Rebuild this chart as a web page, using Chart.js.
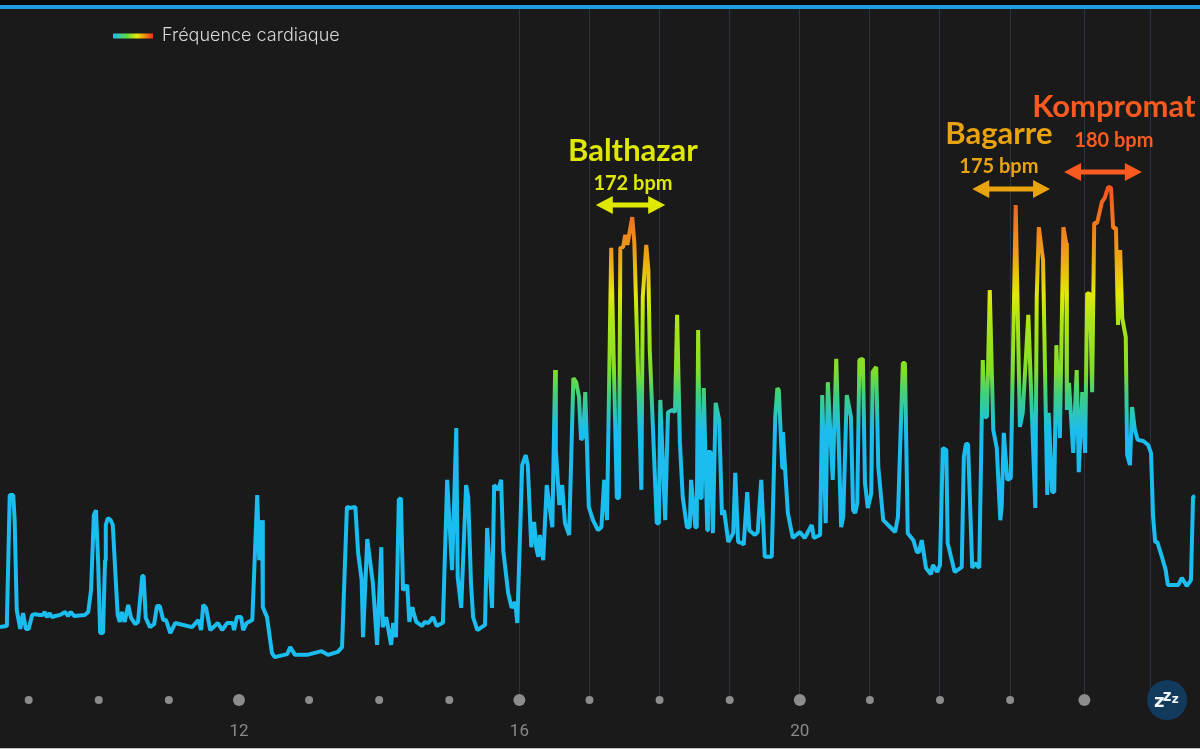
<!DOCTYPE html>
<html lang="fr">
<head>
    <meta charset="UTF-8">
    <title>Fréquence cardiaque</title>
    <script src="https://cdn.jsdelivr.net/npm/chart.js"></script>
    <style>
        html, body { margin: 0; padding: 0; background: #1a1a1a; overflow: hidden; }
        #page { position: relative; width: 1200px; height: 749px; }
        #topbar { position: absolute; left: 0; top: 0; width: 1200px; height: 9px; background: #1f9ce2; border-top: 5px solid #0b0b0b; box-sizing: border-box; }
        #bottomline { position: absolute; left: 0; bottom: 0; width: 1200px; height: 1px; background: #bdbdbd; }
        canvas { display: block; }
    </style>
</head>
<body>
    <div id="page">
        <canvas id="chart" width="1200" height="749"></canvas>
        <div id="topbar"></div>
        <div id="bottomline"></div>
    </div>

    <script>
        // Heure de la journee et frequence cardiaque
        const heartHours = [
            8.59, 8.68, 8.69, 8.73, 8.78, 8.80, 8.83, 8.88, 8.92, 8.96, 9.00, 9.05, 9.09, 9.16, 9.20, 9.23, 9.26, 9.30, 9.33, 9.38,
            9.45, 9.52, 9.56, 9.60, 9.65, 9.80, 9.85, 9.89, 9.93, 9.96, 9.99, 10.02, 10.06, 10.09, 10.10, 10.13, 10.17, 10.20, 10.25, 10.27,
            10.30, 10.33, 10.37, 10.42, 10.46, 10.52, 10.56, 10.62, 10.64, 10.67, 10.73, 10.79, 10.83, 10.87, 10.92, 10.96, 11.02, 11.09, 11.33, 11.42,
            11.46, 11.49, 11.53, 11.59, 11.70, 11.76, 11.83, 11.91, 11.93, 11.97, 12.03, 12.06, 12.11, 12.19, 12.26, 12.29, 12.33, 12.34, 12.40, 12.47,
            12.51, 12.69, 12.73, 12.80, 12.97, 13.18, 13.27, 13.41, 13.47, 13.54, 13.58, 13.66, 13.70, 13.75, 13.77, 13.83, 13.91, 13.97, 14.03, 14.05,
            14.10, 14.17, 14.20, 14.24, 14.28, 14.31, 14.34, 14.37, 14.40, 14.43, 14.47, 14.48, 14.53, 14.61, 14.65, 14.70, 14.77, 14.82, 14.90, 14.91,
            14.97, 14.98, 15.04, 15.10, 15.11, 15.12, 15.17, 15.24, 15.27, 15.31, 15.34, 15.40, 15.51, 15.54, 15.61, 15.64, 15.70, 15.74, 15.77, 15.84,
            15.89, 15.94, 15.97, 16.04, 16.09, 16.12, 16.17, 16.21, 16.24, 16.27, 16.29, 16.34, 16.39, 16.47, 16.51, 16.52, 16.57, 16.61, 16.65, 16.71,
            16.77, 16.81, 16.85, 16.88, 16.91, 16.94, 16.96, 16.99, 17.05, 17.12, 17.17, 17.21, 17.25, 17.31, 17.39, 17.42, 17.44, 17.48, 17.51, 17.54,
            17.61, 17.64, 17.74, 17.76, 17.81, 17.84, 17.86, 17.96, 17.99, 18.01, 18.08, 18.12, 18.18, 18.22, 18.25, 18.29, 18.33, 18.39, 18.43, 18.45,
            18.51, 18.53, 18.55, 18.58, 18.60, 18.63, 18.68, 18.69, 18.73, 18.76, 18.80, 18.85, 18.89, 18.92, 18.98, 19.05, 19.08, 19.12, 19.18, 19.20,
            19.25, 19.28, 19.36, 19.40, 19.45, 19.50, 19.60, 19.65, 19.68, 19.70, 19.75, 19.76, 19.79, 19.83, 19.90, 20.00, 20.07, 20.17, 20.20, 20.29,
            20.32, 20.37, 20.40, 20.47, 20.52, 20.59, 20.62, 20.67, 20.73, 20.76, 20.79, 20.82, 20.85, 20.90, 20.93, 20.97, 21.02, 21.04, 21.09, 21.12,
            21.19, 21.26, 21.36, 21.40, 21.47, 21.50, 21.54, 21.62, 21.67, 21.70, 21.74, 21.80, 21.87, 21.90, 21.96, 22.00, 22.04, 22.09, 22.11, 22.21,
            22.31, 22.34, 22.37, 22.40, 22.46, 22.50, 22.56, 22.61, 22.64, 22.67, 22.71, 22.76, 22.81, 22.86, 22.88, 22.91, 22.96, 23.01, 23.08, 23.14,
            23.18, 23.26, 23.36, 23.38, 23.41, 23.47, 23.53, 23.55, 23.60, 23.63, 23.66, 23.71, 23.76, 23.80, 23.81, 23.84, 23.90, 23.95, 23.98, 24.03,
            24.07, 24.10, 24.14, 24.17, 24.20, 24.24, 24.31, 24.35, 24.40, 24.44, 24.47, 24.51, 24.54, 24.57, 24.60, 24.65, 24.67, 24.71, 24.74, 24.78,
            24.82, 24.90, 24.97, 25.01, 25.04, 25.07, 25.10, 25.17, 25.22, 25.25, 25.40, 25.45, 25.52, 25.58, 25.61, 25.64
        ];
        const heartBpm = [
            61.0, 61.3, 62.9, 96.7, 96.7, 89.9, 65.6, 60.5, 64.8, 60.5, 60.5, 64.3, 64.5, 64.3, 64.3, 65.1, 63.7, 64.8, 63.7, 64.0,
            64.3, 65.1, 64.0, 65.1, 64.0, 64.3, 65.1, 71.0, 91.3, 92.6, 79.1, 59.4, 59.4, 79.1, 88.6, 90.5, 89.9, 88.6, 71.0, 64.3,
            62.4, 65.1, 62.4, 67.0, 63.5, 61.8, 62.4, 74.8, 74.8, 63.5, 61.0, 61.8, 66.7, 66.7, 62.9, 62.9, 59.4, 62.1, 61.0, 62.9,
            60.2, 67.0, 66.2, 60.2, 62.1, 60.2, 62.1, 62.1, 60.2, 63.7, 63.7, 60.2, 62.1, 62.9, 96.7, 79.1, 89.9, 66.4, 63.7, 54.0,
            52.9, 53.7, 55.6, 53.5, 53.5, 54.5, 53.5, 54.3, 55.6, 93.5, 93.2, 93.5, 81.0, 73.7, 58.3, 84.8, 72.9, 56.2, 82.6, 61.0,
            63.7, 56.2, 62.1, 58.3, 95.4, 95.9, 71.0, 71.6, 72.4, 62.4, 66.4, 65.6, 62.4, 61.3, 62.4, 62.1, 63.7, 61.3, 62.1, 62.9,
            100.8, 100.8, 76.4, 114.8, 114.8, 74.5, 66.2, 99.4, 96.2, 72.9, 63.7, 60.2, 61.6, 87.8, 66.2, 99.4, 98.1, 100.8, 81.8, 70.2,
            66.2, 67.8, 62.1, 104.8, 107.5, 104.8, 82.6, 89.4, 82.6, 80.0, 85.9, 79.1, 99.4, 88.0, 130.5, 108.9, 94.0, 99.4, 89.1, 85.9,
            128.3, 127.2, 123.2, 111.6, 112.4, 124.5, 112.4, 93.5, 89.9, 87.2, 88.0, 100.8, 89.9, 163.5, 95.9, 95.9, 163.5, 163.7, 167.0, 164.3,
            171.8, 164.8, 98.1, 150.2, 164.3, 157.5, 135.9, 89.1, 89.1, 122.4, 89.9, 119.1, 119.7, 119.1, 145.4, 110.8, 96.2, 88.0, 88.0, 100.8,
            88.0, 88.0, 141.3, 95.9, 95.9, 125.6, 87.2, 108.3, 108.3, 86.4, 121.6, 117.0, 91.3, 92.6, 84.0, 86.4, 102.7, 84.0, 83.7, 83.2,
            97.5, 87.2, 85.9, 86.7, 100.8, 80.0, 80.0, 117.8, 125.6, 125.1, 104.0, 113.7, 104.0, 91.8, 85.1, 86.7, 85.1, 88.6, 85.1, 85.9,
            123.7, 89.1, 127.2, 100.8, 133.5, 88.0, 90.8, 123.7, 117.8, 92.6, 91.8, 94.5, 133.2, 133.5, 100.0, 93.2, 97.2, 130.0, 131.3, 104.3,
            89.9, 88.6, 86.7, 90.8, 132.4, 132.4, 86.4, 84.5, 81.3, 81.3, 84.5, 77.0, 75.3, 77.8, 75.9, 77.8, 109.4, 108.9, 83.7, 75.9,
            77.2, 107.0, 110.5, 110.5, 77.0, 78.3, 77.0, 133.2, 117.8, 117.8, 152.1, 114.3, 109.4, 89.9, 93.5, 113.5, 100.8, 101.3, 175.1, 115.1,
            118.9, 145.4, 93.2, 150.2, 169.1, 160.2, 96.7, 118.9, 97.5, 97.5, 137.2, 112.1, 169.1, 164.8, 119.7, 127.0, 108.1, 130.5, 102.9, 124.5,
            108.1, 151.3, 151.0, 124.5, 170.2, 170.2, 175.9, 177.0, 180.0, 179.7, 168.9, 168.9, 142.7, 162.9, 144.5, 139.4, 107.5, 104.8, 120.5, 114.3,
            111.6, 111.3, 110.2, 108.1, 90.8, 84.0, 84.0, 79.7, 76.4, 72.4, 72.4, 74.3, 72.1, 73.7, 96.2, 96.4
        ];

        // Axe des heures : graduations, libelles et points gris
        const tickHours = [9, 10, 11, 12, 13, 14, 15, 16, 17, 18, 19, 20, 21, 22, 23, 24.06, 25];
        const tickLabels = { 12: '12', 16: '16', 20: '20' };
        const dotHours = [9, 10, 11, 12, 13, 14, 15, 16, 17, 18, 19, 20, 21, 22, 23, 24.06];
        const bigDotHours = [12, 16, 20, 24.06];
        const firstGridHour = 16;
        const sleepHour = 25.24;

        // Couleurs de la courbe selon le bpm
        const gradientBpm = [114, 118, 124, 130, 144, 151, 157, 163, 170, 179];
        const gradientColors = ['#1bbcee', '#28c4c4', '#3fd07c', '#7fde2c', '#aee614', '#e0e80a', '#e8c010', '#ee9a1a', '#ee7a1e', '#f4581e'];

        // Films reperes sur le graphique
        const peakNames = ['Balthazar', 'Bagarre', 'Kompromat'];
        const peakTexts = ['172 bpm', '175 bpm', '180 bpm'];
        const peakColors = ['#dfe800', '#e8a30f', '#f95a1f'];
        const peakCenters = [17.62, 22.84, 24.48];
        const peakNameBpm = [189.7, 194.3, 201.6];
        const peakTextBpm = [180.8, 185.6, 192.4];
        const arrowStarts = [17.09, 22.46, 23.77];
        const arrowEnds = [18.08, 23.57, 24.88];
        const arrowBpm = [175.1, 179.4, 184.0];

        // Degrade vertical de la courbe, cale sur l'echelle des bpm
        function lineGradient(chart) {
            const y = chart.scales.y;
            const top = y.getPixelForValue(gradientBpm[gradientBpm.length - 1]);
            const bottom = y.getPixelForValue(gradientBpm[0]);
            const gradient = chart.ctx.createLinearGradient(0, bottom, 0, top);
            gradientBpm.forEach((bpm, i) => {
                gradient.addColorStop((y.getPixelForValue(bpm) - bottom) / (top - bottom), gradientColors[i]);
            });
            return gradient;
        }

        // Degrade de la legende
        function legendGradient(chart) {
            const gradient = chart.ctx.createLinearGradient(113, 0, 153, 0);
            gradient.addColorStop(0, '#1bbcee');
            gradient.addColorStop(0.35, '#5fdc40');
            gradient.addColorStop(0.6, '#e8e80a');
            gradient.addColorStop(1, '#ee3018');
            return gradient;
        }

        // Place la legende au meme endroit que sur l'image
        const legendPlacement = {
            id: 'legendPlacement',
            afterLayout(chart) {
                chart.legend.left = 103;
                chart.legend.top = 17;
            }
        };

        // Fleches et textes des films, plus le badge de sommeil
        const peakMarks = {
            id: 'peakMarks',
            afterDatasetsDraw(chart) {
                const { ctx, scales: { x, y } } = chart;
                ctx.save();
                ctx.textAlign = 'center';
                ctx.textBaseline = 'middle';
                peakNames.forEach((name, i) => {
                    const cx = x.getPixelForValue(peakCenters[i]);
                    ctx.fillStyle = peakColors[i];
                    ctx.strokeStyle = peakColors[i];
                    ctx.font = 'bold 31px Lato';
                    ctx.fillText(name, cx, y.getPixelForValue(peakNameBpm[i]));
                    ctx.font = 'bold 20px Lato';
                    ctx.fillText(peakTexts[i], cx, y.getPixelForValue(peakTextBpm[i]));

                    const x1 = x.getPixelForValue(arrowStarts[i]);
                    const x2 = x.getPixelForValue(arrowEnds[i]);
                    const ay = y.getPixelForValue(arrowBpm[i]);
                    ctx.lineWidth = 5;
                    ctx.beginPath();
                    ctx.moveTo(x1 + 10, ay);
                    ctx.lineTo(x2 - 10, ay);
                    ctx.stroke();
                    ctx.beginPath();
                    ctx.moveTo(x1, ay);
                    ctx.lineTo(x1 + 17, ay - 9);
                    ctx.lineTo(x1 + 17, ay + 9);
                    ctx.closePath();
                    ctx.moveTo(x2, ay);
                    ctx.lineTo(x2 - 17, ay - 9);
                    ctx.lineTo(x2 - 17, ay + 9);
                    ctx.closePath();
                    ctx.fill();
                });

                const sx = x.getPixelForValue(sleepHour);
                const sy = y.bottom;
                ctx.fillStyle = '#123a5c';
                ctx.beginPath();
                ctx.arc(sx, sy, 20, 0, Math.PI * 2);
                ctx.fill();
                ctx.fillStyle = '#f2f5f8';
                ctx.font = 'bold 18px "DejaVu Sans"';
                ctx.fillText('z', sx - 8, sy + 2);
                ctx.font = 'bold 15px "DejaVu Sans"';
                ctx.fillText('z', sx, sy - 3);
                ctx.font = 'bold 12px "DejaVu Sans"';
                ctx.fillText('z', sx + 8, sy);
                ctx.restore();
            }
        };

        new Chart(document.getElementById('chart').getContext('2d'), {
            type: 'line',
            data: {
                datasets: [
                    {
                        label: 'Fréquence cardiaque',
                        data: heartHours.map((h, i) => ({ x: h, y: heartBpm[i] })),
                        borderColor: c => c.chart.chartArea ? lineGradient(c.chart) : '#1bbcee',
                        borderWidth: 4,
                        borderJoinStyle: 'bevel',
                        pointRadius: 0,
                        tension: 0
                    },
                    {
                        label: 'Heures',
                        data: dotHours.map(h => ({ x: h, y: 41.3 })),
                        showLine: false,
                        clip: false,
                        backgroundColor: '#8c8c8c',
                        borderWidth: 0,
                        pointRadius: c => bigDotHours.includes(dotHours[c.dataIndex]) ? 6 : 4
                    }
                ]
            },
            options: {
                responsive: false,
                animation: false,
                layout: { padding: 0, autoPadding: false },
                scales: {
                    x: {
                        type: 'linear',
                        min: 8.591,
                        max: 25.709,
                        afterBuildTicks: scale => { scale.ticks = tickHours.map(value => ({ value })); },
                        afterFit: scale => { scale.height = 49; scale.paddingLeft = 0; scale.paddingRight = 0; },
                        border: { display: false },
                        grid: {
                            drawTicks: false,
                            lineWidth: 1,
                            color: c => c.tick && c.tick.value >= firstGridHour ? '#2b333e' : 'transparent'
                        },
                        ticks: {
                            autoSkip: false,
                            maxRotation: 0,
                            padding: 22,
                            color: '#8a8a8a',
                            font: { family: 'Roboto', size: 17 },
                            callback: value => tickLabels[value] || ''
                        }
                    },
                    y: { display: false, min: 41.3, max: 230.5 }
                },
                plugins: {
                    tooltip: { enabled: false },
                    legend: {
                        position: 'chartArea',
                        align: 'start',
                        labels: {
                            boxWidth: 40,
                            boxHeight: 5,
                            padding: 10,
                            font: { family: 'Inter', size: 18, weight: '300' },
                            generateLabels: chart => [{
                                text: 'Fréquence cardiaque',
                                fillStyle: legendGradient(chart),
                                fontColor: '#d8d8d8',
                                strokeStyle: 'transparent',
                                lineWidth: 0,
                                hidden: false,
                                datasetIndex: 0
                            }]
                        }
                    }
                }
            },
            plugins: [legendPlacement, peakMarks]
        });
    </script>
</body>
</html>
